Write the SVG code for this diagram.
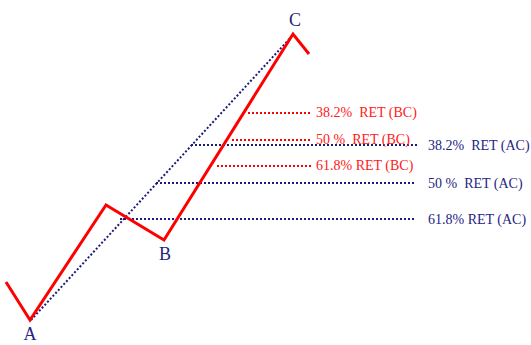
<svg xmlns="http://www.w3.org/2000/svg" width="531" height="345" viewBox="0 0 531 345">
<style>
.bg{fill:#ffffff}
.price{fill:none;stroke:#ff0000;stroke-width:3;stroke-linejoin:miter}
.ac{fill:none;stroke:#1c1c78;stroke-width:2;stroke-dasharray:2 2}
.bc{fill:none;stroke:#ff0000;stroke-width:2;stroke-dasharray:2 2}
.lblac{font-family:"Liberation Serif",serif;font-size:14px;fill:#25257f}
.lblbc{font-family:"Liberation Serif",serif;font-size:14px;fill:#ff2020}
.pt{font-family:"Liberation Serif",serif;font-size:18px;fill:#25257f;text-anchor:middle}
</style>
<rect class="bg" x="0" y="0" width="531" height="345"/>
<g id="connectors">
<line class="ac" x1="31" y1="320" x2="293" y2="35"/>
<line class="ac" x1="191" y1="145" x2="419" y2="145"/>
<line class="ac" x1="156" y1="183" x2="414" y2="183"/>
<line class="ac" x1="120" y1="219" x2="414" y2="219"/>
<line class="bc" x1="248" y1="113" x2="311" y2="113"/>
<line class="bc" x1="232" y1="140" x2="311" y2="140"/>
<line class="bc" x1="217" y1="166" x2="311" y2="166"/>
<polyline class="price" points="6,282 30,320 106,205 164,240 293,34 309,54"/>
</g>
<g id="A"><text class="pt" x="30" y="340">A</text></g>
<g id="B"><text class="pt" x="165" y="260">B</text></g>
<g id="C"><text class="pt" x="295" y="26">C</text></g>
<g id="ret-bc-382"><text class="lblbc" x="316" y="117" xml:space="preserve">38.2%  RET (BC)</text></g>
<g id="ret-bc-50"><text class="lblbc" x="316" y="144" xml:space="preserve">50 %  RET (BC)</text></g>
<g id="ret-bc-618"><text class="lblbc" x="316" y="170">61.8% RET (BC)</text></g>
<g id="ret-ac-382"><text class="lblac" x="428" y="150" xml:space="preserve">38.2%  RET (AC)</text></g>
<g id="ret-ac-50"><text class="lblac" x="428" y="188" xml:space="preserve">50 %  RET (AC)</text></g>
<g id="ret-ac-618"><text class="lblac" x="428" y="224">61.8% RET (AC)</text></g>
</svg>
